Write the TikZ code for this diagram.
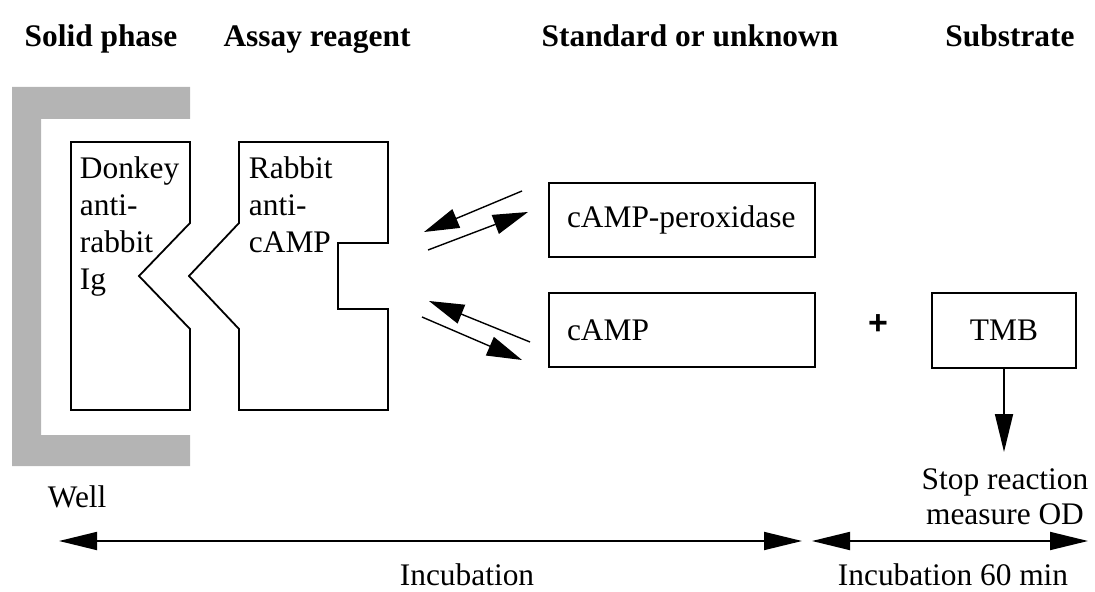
\documentclass[tikz,border=0pt]{standalone}
\usepackage{fontspec}
\setmainfont{Liberation Serif}
\setsansfont{Liberation Sans}
\usetikzlibrary{arrows.meta}
\definecolor{wellgray}{RGB}{180,180,180}

\begin{document}
\begin{tikzpicture}
        [x=0.5pt,y=-0.5pt,line width=0.9pt,
         every node/.style={inner sep=0,font=\fontsize{15.7}{18.5}\selectfont},
         head/.style={anchor=base,font=\fontsize{15.7}{18.5}\selectfont\bfseries},
         box/.style={draw,minimum height=37pt},
         fall/.style={-{Triangle[length=19pt,width=9pt]}},
         span/.style={{Triangle[length=19pt,width=9pt]}-{Triangle[length=19pt,width=9pt]}},
         equil/.style={line width=0.7pt,-{Triangle[length=17.5pt,width=10pt]}}]

        \useasboundingbox (0,0) rectangle (1095,592);

        \node[head] (solid) at (101,47) {Solid phase};
        \node[head] (assay) at (317,47) {Assay reagent};
        \node[head] (std) at (690,47) {Standard or unknown};
        \node[head] (sub) at (1010,47) {Substrate};

        \fill[wellgray] (12,87) -- (190,87) -- (190,119) -- (41,119) -- (41,435)
              -- (190,435) -- (190,466) -- (12,466) -- cycle;
        \node[anchor=base west] (well) at (47,507) {Well};

        \draw (71,142) -- (190,142) -- (190,223) -- (139,276) -- (190,329)
              -- (190,410) -- (71,410) -- cycle;
        \draw (239,142) -- (388,142) -- (388,243) -- (338,243) -- (338,309)
              -- (388,309) -- (388,410) -- (239,410) -- (239,329) -- (189,276)
              -- (239,223) -- cycle;
        \node[anchor=north west,align=left] (donkey) at (79,156) {Donkey\\anti-\\rabbit\\Ig};
        \node[anchor=north west,align=left] (rabbit) at (248,156) {Rabbit\\anti-\\cAMP};

        \node[box,minimum width=133pt,text width=115pt,inner xsep=9pt,align=left] (pox) at (682,220) {cAMP-peroxidase};
        \node[box,minimum width=133pt,text width=115pt,inner xsep=9pt,align=left] (camp) at (682,330) {cAMP};
        \node[font=\fontsize{17}{18}\selectfont\sffamily\bfseries] (plus) at (878,325) {+};
        \node[box,minimum width=72pt,minimum height=37.5pt] (tmb) at (1004,330.5) {TMB};

        \coordinate (a1) at (522,191);
        \coordinate (b1) at (424,232);
        \coordinate (a2) at (428,250);
        \coordinate (b2) at (528,212);
        \coordinate (a3) at (530,342);
        \coordinate (b3) at (429,301);
        \coordinate (a4) at (422,317);
        \coordinate (b4) at (522,360);
        \draw[equil] (a1) -- (b1);
        \draw[equil] (a2) -- (b2);
        \draw[equil] (a3) -- (b3);
        \draw[equil] (a4) -- (b4);

        \coordinate (od) at (1004,452);
        \draw[fall] (tmb) -- (od);
        \node[anchor=base,align=center,font=\fontsize{15.7}{17.5}\selectfont] (stop) at (1005,524) {Stop reaction\\measure OD};

        \coordinate (i1) at (59,541);
        \coordinate (i2) at (802,541);
        \coordinate (i3) at (812,541);
        \coordinate (i4) at (1088,541);
        \draw[span] (i1) -- (i2);
        \draw[span] (i3) -- (i4);
        \node[anchor=base] (inc) at (467,585) {Incubation};
        \node[anchor=base] (inc60) at (953,585) {Incubation 60 min};

\end{tikzpicture}
\end{document}
